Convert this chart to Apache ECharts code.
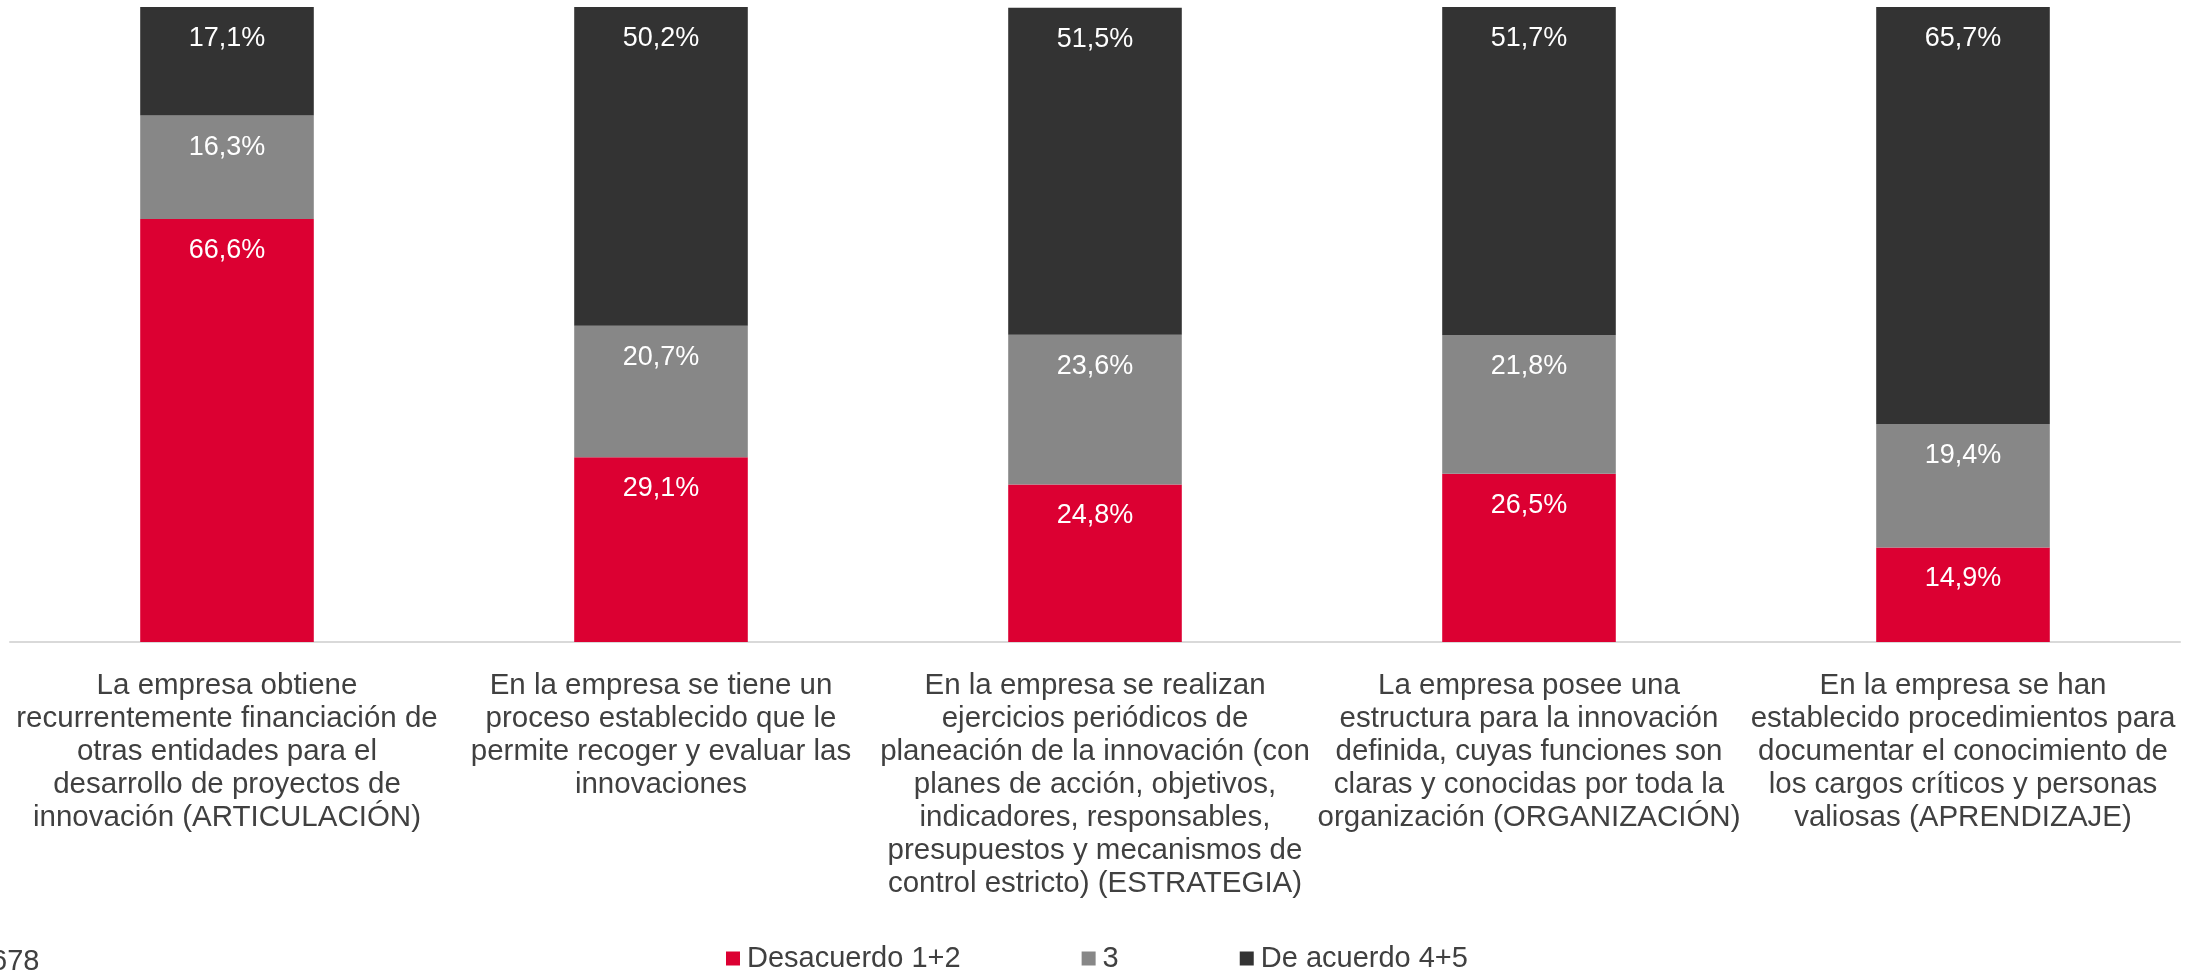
<!DOCTYPE html>
<html>
<head>
	<meta charset="UTF-8" />
	<title>Innovación - resultados</title>
	<script src="https://cdn.jsdelivr.net/npm/echarts@6/dist/echarts.min.js"></script>
	<style>
		html, body { margin: 0; padding: 0; background: #fff; }
		#chart { width: 2198px; height: 971px; }
	</style>
</head>
<body>
	<div id="chart"></div>
	<script type="text/javascript">
		// categorías (con saltos de línea como en el original)
		const categories = [
			"La empresa obtiene\nrecurrentemente financiación de\notras entidades para el\ndesarrollo de proyectos de\ninnovación (ARTICULACIÓN)",
			"En la empresa se tiene un\nproceso establecido que le\npermite recoger y evaluar las\ninnovaciones",
			"En la empresa se realizan\nejercicios periódicos de\nplaneación de la innovación (con\nplanes de acción, objetivos,\nindicadores, responsables,\npresupuestos y mecanismos de\ncontrol estricto) (ESTRATEGIA)",
			"La empresa posee una\nestructura para la innovación\ndefinida, cuyas funciones son\nclaras y conocidas por toda la\norganización (ORGANIZACIÓN)",
			"En la empresa se han\nestablecido procedimientos para\ndocumentar el conocimiento de\nlos cargos críticos y personas\nvaliosas (APRENDIZAJE)"
		];
		const seriesNames = ["Desacuerdo 1+2", "3", "De acuerdo 4+5"];
		const desacuerdo = [66.6, 29.1, 24.8, 26.5, 14.9];
		const neutral = [16.3, 20.7, 23.6, 21.8, 19.4];
		const deAcuerdo = [17.1, 50.2, 51.5, 51.7, 65.7];
		const colors = ["#dc0032", "#878787", "#333333"];

		const chart = echarts.init(document.getElementById("chart"));
		const font = "Liberation Sans, Arial, sans-serif";

		function fmt(p) { // 66.6 -> "66,6%"
			return p.value.toFixed(1).replace(".", ",") + "%";
		}

		const serie = (name, data, color) => ({
			name: name,
			type: "bar",
			stack: "total",
			barWidth: "40%",
			data: data,
			itemStyle: { color: color },
			label: {
				show: true,
				position: "insideTop",
				distance: 18,
				color: "#fff",
				fontFamily: font,
				fontSize: 27,
				formatter: fmt
			}
		});

		chart.setOption({
			animation: false,
			color: colors,
			grid: { left: 10, right: 18, top: 7, bottom: 329, containLabel: false },
			legend: {
				bottom: -7,
				left: 721,
				itemWidth: 14,
				itemHeight: 14,
				itemGap: 121,
				icon: "rect",
				textStyle: { fontFamily: font, fontSize: 29, color: "#404040", padding: [0, 0, 0, 2] },
				data: seriesNames
			},
			xAxis: {
				type: "category",
				data: categories,
				axisLine: { lineStyle: { color: "#d9d9d9", width: 2 } },
				axisTick: { show: false },
				axisLabel: {
					interval: 0,
					margin: 27,
					color: "#404040",
					fontFamily: font,
					fontSize: 29.5,
					lineHeight: 33
				}
			},
			yAxis: {
				type: "value",
				min: 0,
				max: 100,
				show: false,
				splitLine: { show: false }
			},
			graphic: [{
				type: "text",
				left: -9,
				bottom: -5,
				style: { text: "678", fontFamily: font, fontSize: 29, fill: "#404040" }
			}],
			series: [
				serie(seriesNames[0], desacuerdo, colors[0]),
				serie(seriesNames[1], neutral, colors[1]),
				serie(seriesNames[2], deAcuerdo, colors[2])
			]
		});
	</script>
</body>
</html>
